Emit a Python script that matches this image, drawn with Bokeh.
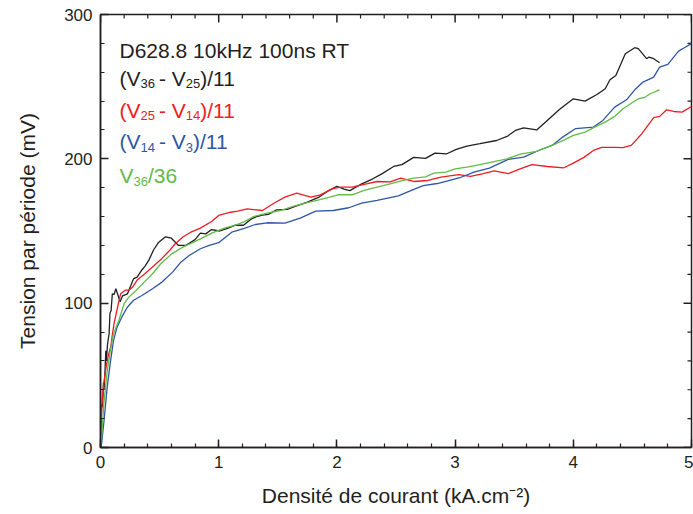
from bokeh.plotting import figure
from bokeh.models import Range1d, FixedTicker, Label
from bokeh.embed import file_html
from bokeh.resources import INLINE

# ---------------- data ----------------
black_x = [0, 0.005, 0.01, 0.018, 0.025, 0.03, 0.036, 0.045, 0.05, 0.06, 0.073, 0.08, 0.09, 0.1,
           0.115, 0.13, 0.15, 0.166, 0.186, 0.228, 0.256, 0.28, 0.31, 0.35, 0.38, 0.41, 0.45, 0.49,
           0.55, 0.6, 0.66, 0.72, 0.8, 0.845, 0.89, 0.94, 1.01, 1.08, 1.14, 1.21, 1.27, 1.32, 1.37,
           1.42, 1.49, 1.58, 1.63, 1.75, 1.85, 1.93, 2.0, 2.06, 2.11, 2.21, 2.30, 2.38, 2.48, 2.55,
           2.65, 2.75, 2.83, 2.93, 3.01, 3.10, 3.21, 3.35, 3.44, 3.51, 3.58, 3.69, 3.78, 3.88, 4.0,
           4.10, 4.20, 4.27, 4.31, 4.36, 4.44, 4.52, 4.55, 4.62, 4.64, 4.68, 4.73]
black_y = [0, 15, 30, 28, 45, 40, 49, 67, 60, 72, 79, 93, 95, 106.5,
           106, 110, 105, 101, 105, 106.5, 112, 117, 118, 123, 126, 130, 137, 142,
           146, 145, 140, 140, 144, 148.5, 148, 151, 150, 152, 154, 154, 158, 160, 161,
           161.5, 164.7, 165, 166.5, 170, 173.5, 178, 181, 179, 178, 182.7, 186, 189.6, 194.7, 196,
           201, 200.3, 204, 203.5, 206.5, 208.8, 210.5, 212.7, 215.5, 219.7, 221.5, 220, 226.6, 234, 241.6,
           240, 244.6, 248.6, 254.8, 257.8, 272.8, 277, 276.3, 269.4, 270.5, 269.4, 266.6]

red_x = [0, 0.007, 0.014, 0.03, 0.05, 0.07, 0.087, 0.1, 0.115, 0.144, 0.17, 0.21, 0.24, 0.27,
         0.31, 0.37, 0.44, 0.52, 0.59, 0.63, 0.7, 0.76, 0.845, 0.94, 1.0, 1.10, 1.16, 1.24, 1.37,
         1.46, 1.56, 1.66, 1.78, 1.86, 1.96, 2.03, 2.13, 2.23, 2.34, 2.45, 2.54, 2.65, 2.77, 2.88,
         3.03, 3.13, 3.23, 3.33, 3.45, 3.55, 3.65, 3.78, 3.92, 4.0, 4.09, 4.17, 4.24, 4.35, 4.42,
         4.49, 4.58, 4.68, 4.73, 4.79, 4.85, 4.92, 5.0]
red_y = [0, 20, 33, 46, 57, 65, 70, 78, 86, 97, 106.5, 109, 109, 111,
         116, 120, 125, 131, 137, 141, 146, 149, 152, 156.6, 160.8, 163, 163.8, 165.4, 164.2,
         168.9, 173.5, 176.2, 173.5, 175, 179.2, 180.4, 180.4, 182.3, 184.3, 184, 186.6, 184.3, 185, 187.3,
         189, 187.8, 189.5, 191.6, 189.7, 193, 196, 194.7, 193.8, 197, 201, 205.8, 208, 208, 207.7,
         209.3, 217.4, 228.5, 229.4, 234, 232.8, 232.4, 236.3]

blue_x = [0, 0.01, 0.03, 0.057, 0.085, 0.11, 0.14, 0.18, 0.225, 0.28, 0.35, 0.44, 0.52, 0.61,
          0.68, 0.75, 0.845, 0.92, 1.0, 1.11, 1.21, 1.31, 1.41, 1.56, 1.69, 1.82, 1.97, 2.10, 2.21,
          2.34, 2.52, 2.63, 2.73, 2.85, 2.93, 3.04, 3.16, 3.29, 3.45, 3.58, 3.72, 3.82, 3.90, 4.02,
          4.17, 4.25, 4.35, 4.45, 4.52, 4.59, 4.68, 4.73, 4.80, 4.89, 4.94, 5.0]
blue_y = [0, 3, 18.7, 42, 60, 74, 83.4, 90.3, 97, 102, 105.3, 110, 114.6, 121.5,
          128.4, 133, 137.7, 140, 141.9, 149.2, 151.6, 154.5, 155.7, 155.4, 158.9, 163.8, 164.2, 166.1, 169.3,
          171.2, 174.3, 178.1, 181.4, 182.9, 184.5, 186.9, 190.8, 193.6, 199.6, 201.2, 206.3, 209.3, 214.5, 221,
          222, 226.6, 235.8, 240.9, 247.8, 253.2, 256.6, 263.5, 265.4, 274.6, 277, 279.8]

green_x = [0, 0.008, 0.03, 0.057, 0.085, 0.11, 0.155, 0.2, 0.24, 0.3, 0.37, 0.44, 0.51, 0.6,
           0.7, 0.78, 0.845, 0.96, 1.06, 1.13, 1.21, 1.30, 1.41, 1.52, 1.63, 1.73, 1.83, 1.94, 2.01,
           2.13, 2.23, 2.34, 2.45, 2.56, 2.65, 2.75, 2.82, 2.92, 3.0, 3.10, 3.18, 3.30, 3.44, 3.56,
           3.69, 3.82, 3.92, 4.0, 4.10, 4.18, 4.27, 4.35, 4.42, 4.55, 4.61, 4.65, 4.73]
green_y = [0, 5, 32, 53, 68, 78.8, 88, 99.6, 104.2, 108.8, 114.6, 120.4, 127.3, 134,
           139, 142, 144.6, 149.2, 152.3, 153.8, 156.1, 160.1, 162.4, 164.2, 167, 169.3, 171.2, 173.5, 175.1,
           175.1, 178.1, 180.4, 182.7, 185, 186.7, 187.5, 190.1, 190.8, 193.1, 194.2, 195.5, 197.5, 200, 203.5,
           205.1, 209.3, 213, 216.2, 218.5, 222, 225.4, 229.4, 234.7, 241.6, 242.8, 245.1, 247.8]

x_ticks = [0, 1, 2, 3, 4, 5]
x_minor = [round(i * 0.2, 1) for i in range(26)]
y_ticks = [0, 100, 200, 300]
y_minor = [i * 20 for i in range(16)]
title_text = "D628.8 10kHz 100ns RT"
legend_lines = [
    [("(V", False), ("36", True), ("- V", False), ("25", True), (")/11", False)],
    [("(V", False), ("25", True), ("- V", False), ("14", True), (")/11", False)],
    [("(V", False), ("14", True), ("- V", False), ("3", True), (")/11", False)],
    [("V", False), ("36", True), ("/36", False)],
]

# ---------------- style ----------------
C_BLACK = "#231f20"
C_RED = "#ee1d23"
C_BLUE = "#2f56a6"
C_GREEN = "#62bb46"
FONT = "Liberation Sans"

X0, X1, Y0, Y1 = 0, 5, 0, 300
FW, FH = 591, 433
p = figure(frame_width=FW, frame_height=FH,
           x_range=Range1d(X0, X1), y_range=Range1d(Y0, Y1),
           output_backend="svg", toolbar_location=None,
           min_border_left=100, min_border_right=2, min_border_top=14, min_border_bottom=67,
           background_fill_color="white", border_fill_color="white")
p.xgrid.visible = False
p.ygrid.visible = False
p.outline_line_color = C_BLACK
p.outline_line_width = 1.5

p.xaxis.ticker = FixedTicker(ticks=x_ticks, minor_ticks=x_minor)
p.yaxis.ticker = FixedTicker(ticks=y_ticks, minor_ticks=y_minor)
for ax in (p.xaxis[0], p.yaxis[0]):
    ax.axis_line_color = C_BLACK
    ax.axis_line_width = 1.5
    ax.major_tick_line_color = C_BLACK
    ax.minor_tick_line_color = C_BLACK
    ax.major_tick_line_width = 1.5
    ax.minor_tick_line_width = 1.2
    ax.major_tick_in = 8
    ax.major_tick_out = 0
    ax.minor_tick_in = 4
    ax.minor_tick_out = 0
    ax.major_label_text_font = FONT
    ax.major_label_text_color = C_BLACK
    ax.major_label_text_font_size = "17px"
    ax.major_label_standoff = 8
    ax.axis_label_text_font = FONT
    ax.axis_label_text_font_size = "21px"
    ax.axis_label_text_font_style = "normal"
    ax.axis_label_text_color = C_BLACK
p.xaxis.axis_label = "Densité de courant (kA.cm\u207b\u00b2)"
p.yaxis.axis_label = "Tension par période (mV)"
p.xaxis.axis_label_standoff = 13
p.yaxis.axis_label_standoff = 22

# top and right tick marks (inside), derived from the tick lists
px_per_x = FW / (X1 - X0)
px_per_y = FH / (Y1 - Y0)
MAJ, MIN = 8, 4
xm = [v for v in x_minor if v not in x_ticks]
ym = [v for v in y_minor if v not in y_ticks]
p.segment(x0=x_ticks, y0=[Y1] * len(x_ticks), x1=x_ticks, y1=[Y1 - MAJ / px_per_y] * len(x_ticks),
          line_color=C_BLACK, line_width=1.5)
p.segment(x0=xm, y0=[Y1] * len(xm), x1=xm, y1=[Y1 - MIN / px_per_y] * len(xm),
          line_color=C_BLACK, line_width=1.2)
p.segment(x0=[X1] * len(y_ticks), y0=y_ticks, x1=[X1 - MAJ / px_per_x] * len(y_ticks), y1=y_ticks,
          line_color=C_BLACK, line_width=1.5)
p.segment(x0=[X1] * len(ym), y0=ym, x1=[X1 - MIN / px_per_x] * len(ym), y1=ym,
          line_color=C_BLACK, line_width=1.2)

# ---------------- curves ----------------
lw = 1.3
p.line(black_x, black_y, line_color=C_BLACK, line_width=lw)
p.line(red_x, red_y, line_color=C_RED, line_width=lw)
p.line(blue_x, blue_y, line_color=C_BLUE, line_width=lw)
p.line(green_x, green_y, line_color=C_GREEN, line_width=lw)

# ---------------- legend text (manual, with subscripts) ----------------
WIDTHS = {"(": 333, ")": 333, "V": 667, " ": 278, "-": 333, "/": 278}
for d in "0123456789":
    WIDTHS[d] = 556

def text_w(s, size):
    return sum(WIDTHS.get(c, 556) for c in s) * size / 1000.0

MAIN, SUB = 21, 13
x0_px = 19  # from frame left

def add_text(xpx, base_px_from_top, s, size, color):
    p.add_layout(Label(x=X0 + xpx / px_per_x, y=Y1 - base_px_from_top / px_per_y,
                       text=s, text_font=FONT, text_font_size=f"{size}px",
                       text_color=color, text_baseline="alphabetic", text_align="left"))

add_text(x0_px, 35.5, title_text, MAIN, C_BLACK)
baselines = [63.5, 95.5, 127, 161]
colors = [C_BLACK, C_RED, C_BLUE, C_GREEN]
for pieces, base, col in zip(legend_lines, baselines, colors):
    xx = x0_px
    for s, sub in pieces:
        size = SUB if sub else MAIN
        if s.startswith("-"):
            xx += 4
        add_text(xx, base + (5.5 if sub else 0), s, size, col)
        xx += text_w(s, size)

open("out.html", "w").write(file_html(p, INLINE))
